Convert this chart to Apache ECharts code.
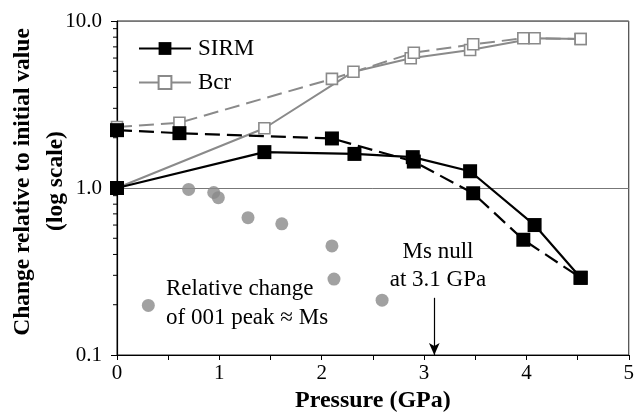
<!DOCTYPE html>
<html>
<head>
<meta charset="utf-8">
<script src="https://cdn.jsdelivr.net/npm/echarts@6/dist/echarts.min.js"></script>
<style>
html,body{margin:0;padding:0;background:#fff;}
#chart{width:637px;height:420px;}
</style>
</head>
<body>
<div id="chart"></div>
<script>
// ---- data ----
const sirmSolid = [[0, 1.0], [1.44, 1.64], [2.32, 1.60], [2.89, 1.53], [3.45, 1.26], [4.08, 0.60], [4.53, 0.29]];
const sirmDashed = [[0, 2.22], [0.61, 2.13], [2.10, 1.98], [2.90, 1.44], [3.48, 0.93], [3.97, 0.49], [4.53, 0.29]];
const bcrSolid = [[0, 1.0], [1.44, 2.28], [2.31, 4.97], [2.87, 5.98], [3.45, 6.7], [4.08, 7.88], [4.53, 7.8]];
const bcrDashed = [[0, 2.32], [0.61, 2.46], [2.10, 4.5], [2.90, 6.46], [3.48, 7.25], [3.97, 7.88], [4.53, 7.8]];
const peak001 = [[0.306, 0.198], [0.70, 0.98], [0.945, 0.94], [0.99, 0.875], [1.28, 0.664], [1.61, 0.61], [2.10, 0.45], [2.12, 0.285], [2.59, 0.213]];
const msNull = 3.1;
const yMinorTicks = [0.2, 0.3, 0.4, 0.5, 0.6, 0.7, 0.8, 0.9, 2, 3, 4, 5, 6, 7, 8, 9];

const serif = '"Liberation Serif", "Times New Roman", serif';
const black = '#000';
const gray = '#8a8a8a';

const chart = echarts.init(document.getElementById('chart'), null, {renderer: 'canvas'});
chart.setOption({
  animation: false,
  backgroundColor: '#fff',
  grid: {left: 117, right: 5, top: 21, bottom: 65, show: true, borderColor: '#222', borderWidth: 1},
  legend: {
    orient: 'vertical', left: 133, top: 32, itemWidth: 52, itemHeight: 16, itemGap: 11,
    data: ['SIRM', 'Bcr'],
    textStyle: {fontFamily: serif, fontSize: 23, color: '#000', padding: [0, 0, 0, 2]}
  },
  xAxis: {
    type: 'value', min: 0, max: 5, interval: 0.5,
    name: 'Pressure (GPa)', nameLocation: 'middle', nameGap: 31,
    nameTextStyle: {fontFamily: serif, fontSize: 24, fontWeight: 'bold', color: '#000'},
    axisLine: {show: true, onZero: false, lineStyle: {color: '#000', width: 1.2}},
    axisTick: {show: true, inside: false, length: 5, lineStyle: {color: '#000'}},
    axisLabel: {
      margin: 8, fontFamily: serif, fontSize: 21, color: '#000',
      formatter: v => (Math.abs(v - Math.round(v)) < 1e-9 ? String(Math.round(v)) : '')
    },
    splitLine: {show: false}
  },
  yAxis: {
    type: 'log', logBase: 10, min: 0.1, max: 10,
    axisLine: {show: true, lineStyle: {color: '#000', width: 1.2}},
    axisTick: {show: true, inside: false, length: 6, lineStyle: {color: '#000'}},
    axisLabel: {margin: 15, fontFamily: serif, fontSize: 21, color: '#000', formatter: v => Number(v).toFixed(1)},
    splitLine: {show: true, lineStyle: {color: '#777', width: 1}}
  },
  graphic: [
    {type: 'text', x: 23, y: 182, rotation: Math.PI / 2,
     style: {text: 'Change relative to initial value', font: 'bold 23.5px ' + serif, fill: '#000', align: 'center', verticalAlign: 'middle'}},
    {type: 'text', x: 56, y: 181, rotation: Math.PI / 2,
     style: {text: '(log scale)', font: 'bold 23.5px ' + serif, fill: '#000', align: 'center', verticalAlign: 'middle'}},
    {type: 'text', x: 166, y: 289,
     style: {text: 'Relative change', font: '23px ' + serif, fill: '#000', align: 'left', verticalAlign: 'middle'}},
    {type: 'text', x: 166, y: 318,
     style: {text: 'of 001 peak \u2248 Ms', font: '23px ' + serif, fill: '#000', align: 'left', verticalAlign: 'middle'}},
    {type: 'text', x: 438, y: 252,
     style: {text: 'Ms null', font: '23px ' + serif, fill: '#000', align: 'center', verticalAlign: 'middle'}},
    {type: 'text', x: 438, y: 280,
     style: {text: 'at 3.1 GPa', font: '23px ' + serif, fill: '#000', align: 'center', verticalAlign: 'middle'}}
  ],
  series: [
    {
      name: 'minorTicks', type: 'custom', clip: false, silent: true, z: 1,
      data: yMinorTicks.map(v => [0, v]),
      renderItem: function (params, api) {
        const p = api.coord([api.value(0), api.value(1)]);
        return {type: 'line', shape: {x1: p[0] - 4, y1: p[1], x2: p[0], y2: p[1]}, style: {stroke: '#000', lineWidth: 1}};
      }
    },
    {
      name: 'Bcr', type: 'line', data: bcrSolid, symbol: 'rect', symbolSize: 11, z: 2,
      lineStyle: {color: gray, width: 2},
      itemStyle: {color: '#fff', borderColor: gray, borderWidth: 1.6}
    },
    {
      name: 'Bcr (initial)', type: 'line', data: bcrDashed, symbol: 'rect', symbolSize: 11, z: 2,
      lineStyle: {color: gray, width: 2, type: [15, 7]},
      itemStyle: {color: '#fff', borderColor: gray, borderWidth: 1.6}
    },
    {
      name: '001 peak', type: 'scatter', data: peak001, symbol: 'circle', symbolSize: 13, z: 3,
      itemStyle: {color: gray}
    },
    {
      name: 'SIRM', type: 'line', data: sirmSolid, symbol: 'rect', symbolSize: 14, z: 4,
      lineStyle: {color: black, width: 2.2},
      itemStyle: {color: black}
    },
    {
      name: 'SIRM (initial)', type: 'line', data: sirmDashed, symbol: 'rect', symbolSize: 14, z: 4,
      lineStyle: {color: black, width: 2.2, type: [15, 7]},
      itemStyle: {color: black},
      markLine: {
        silent: true, symbol: ['none', 'arrow'], symbolSize: [8, 12], label: {show: false},
        lineStyle: {color: '#000', width: 1.2, type: 'solid'},
        data: [[{coord: [msNull, 0.22]}, {coord: [msNull, 0.1]}]]
      }
    }
  ]
});
</script>
</body>
</html>
